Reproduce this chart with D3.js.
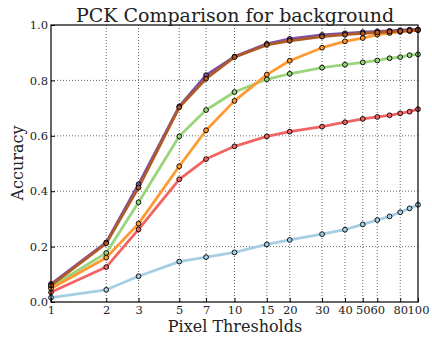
<!DOCTYPE html>
<html><head><meta charset="utf-8">
<script src="https://cdn.jsdelivr.net/npm/d3@7"></script>
<style>body{margin:0;background:#fff}svg{display:block}text{font-family:"DejaVu Serif",serif;fill:#222}</style>
</head><body>
<svg id="c" width="432" height="339"></svg>
<script>
const thresholds = [1,2,3,5,7,10,15,20,30,40,50,60,70,80,90,100];
const tickValues = [1,2,3,5,7,10,15,20,30,40,50,60,80,100];
const yTicks = [0,0.2,0.4,0.6,0.8,1.0];
const seriesBlue   = [0.016,0.044,0.093,0.146,0.162,0.179,0.208,0.224,0.245,0.261,0.280,0.296,0.309,0.324,0.338,0.351];
const seriesRed    = [0.035,0.126,0.262,0.443,0.516,0.562,0.598,0.615,0.633,0.649,0.661,0.668,0.674,0.681,0.687,0.696];
const seriesGreen  = [0.055,0.177,0.360,0.598,0.693,0.758,0.804,0.824,0.846,0.857,0.865,0.872,0.880,0.884,0.891,0.894];
const seriesOrange = [0.049,0.160,0.283,0.490,0.620,0.726,0.821,0.871,0.918,0.941,0.953,0.965,0.971,0.975,0.978,0.981];
const seriesPurple = [0.065,0.215,0.425,0.706,0.819,0.886,0.932,0.950,0.964,0.970,0.974,0.977,0.979,0.981,0.983,0.984];
const seriesBrown  = [0.060,0.212,0.413,0.703,0.806,0.884,0.928,0.943,0.958,0.965,0.970,0.973,0.976,0.978,0.980,0.982];
const series = [
  {v: seriesBlue, c: "#a6cee3"},
  {v: seriesRed, c: "#f26464"},
  {v: seriesGreen, c: "#9ad57c"},
  {v: seriesOrange, c: "#ff9a33"},
  {v: seriesPurple, c: "#7c51a8"},
  {v: seriesBrown, c: "#b05a28"}
];
const svg = d3.select("#c");
const L=51, R=418, T=25, B=302;
const x = d3.scaleLog().domain([1,100]).range([L,R]);
const y = d3.scaleLinear().domain([0,1]).range([B,T]);
const g = svg.append("g");
g.selectAll(".gx").data(tickValues.filter(t=>t>1&&t<100)).join("line")
  .attr("x1",d=>x(d)).attr("x2",d=>x(d)).attr("y1",T).attr("y2",B)
  .attr("stroke","#000").attr("stroke-width",0.6).attr("stroke-dasharray","1,2");
g.selectAll(".gy").data(yTicks.filter(t=>t>0&&t<1)).join("line")
  .attr("y1",d=>y(d)).attr("y2",d=>y(d)).attr("x1",L).attr("x2",R)
  .attr("stroke","#000").attr("stroke-width",0.6).attr("stroke-dasharray","1,2");
const line = d3.line().x((d,i)=>x(thresholds[i])).y(d=>y(d));
const pg = svg.append("g");
series.forEach(s=>{
  pg.append("path").datum(s.v).attr("d",line).attr("fill","none").attr("stroke",s.c).attr("stroke-width",2.8).attr("stroke-linejoin","round");
});
series.forEach(s=>{
  pg.selectAll(null).data(s.v).join("circle")
    .attr("cx",(d,i)=>x(thresholds[i])).attr("cy",d=>y(d)).attr("r",2.4)
    .attr("fill",s.c).attr("stroke","#000").attr("stroke-width",0.9);
});
svg.append("rect").attr("x",L).attr("y",T).attr("width",R-L).attr("height",B-T).attr("fill","none").attr("stroke","#000").attr("stroke-width",1.2);
const xa = d3.axisBottom(x).tickValues(tickValues).tickFormat(d3.format("d")).tickSize(-4).tickPadding(4);
const xg = svg.append("g").attr("transform",`translate(0,${B})`).call(xa);
xg.select(".domain").remove();
xg.selectAll("text").attr("font-size","11.5px").attr("fill","#222").attr("font-family","DejaVu Serif");
const ya = d3.axisLeft(y).tickValues(yTicks).tickFormat(d3.format(".1f")).tickSize(-4).tickPadding(3);
const yg = svg.append("g").attr("transform",`translate(${L},0)`).call(ya);
yg.select(".domain").remove();
yg.selectAll("text").attr("font-size","11.5px").attr("fill","#222").attr("font-family","DejaVu Serif");
svg.append("text").attr("x",235).attr("y",22).attr("text-anchor","middle").attr("font-size","19px").text("PCK Comparison for background");
svg.append("text").attr("x",235).attr("y",332).attr("text-anchor","middle").attr("font-size","16px").text("Pixel Thresholds");
svg.append("text").attr("transform","translate(23,163) rotate(-90)").attr("text-anchor","middle").attr("font-size","16px").text("Accuracy");
</script>
</body></html>
